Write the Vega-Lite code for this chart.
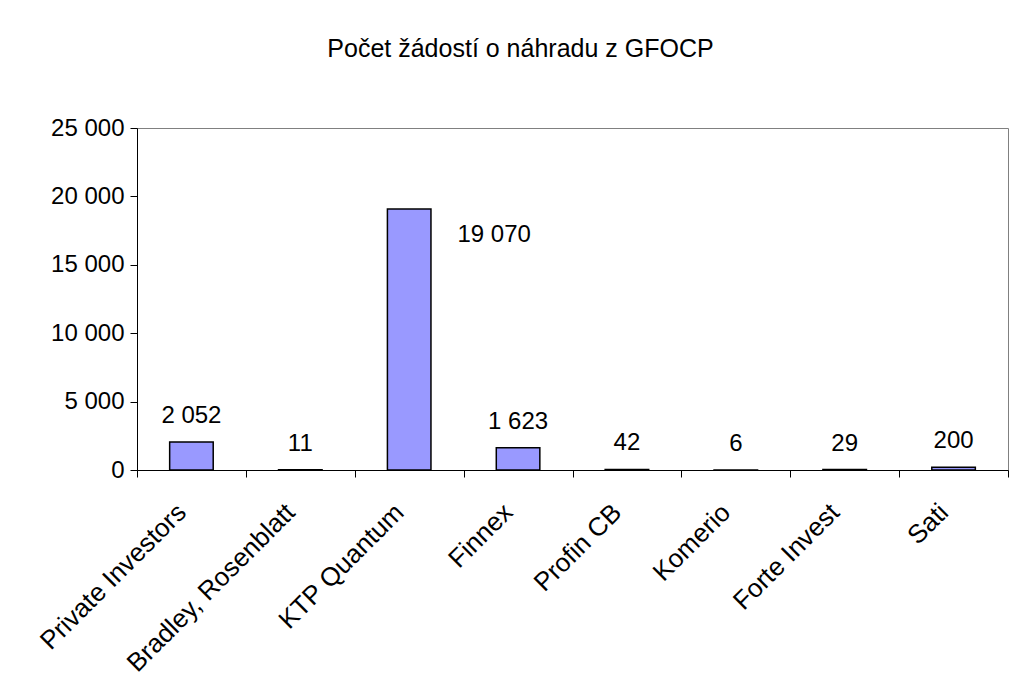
{
  "$schema": "https://vega.github.io/schema/vega-lite/v6.json",
  "autosize": "none",
  "width": 871,
  "height": 342,
  "padding": {"left": 137, "top": 128, "right": 4, "bottom": 227},
  "background": "white",
  "title": {
    "text": "Počet žádostí o náhradu z GFOCP",
    "anchor": "middle",
    "frame": "group",
    "dx": -52,
    "offset": 34,
    "baseline": "alphabetic",
    "font": "Liberation Sans",
    "fontSize": 25,
    "fontWeight": "normal",
    "color": "black"
  },
  "config": {
    "locale": {"number": {"decimal": ",", "thousands": " ", "grouping": [3], "currency": ["", " Kč"]}},
    "view": {"stroke": "#808080", "strokeWidth": 1},
    "axis": {
      "labelFont": "Liberation Sans",
      "labelFontSize": 24,
      "labelColor": "black",
      "domainColor": "black",
      "tickColor": "black",
      "domainWidth": 1,
      "tickWidth": 1,
      "tickSize": 7,
      "grid": false,
      "title": null
    },
    "text": {"font": "Liberation Sans", "fontSize": 24, "color": "black"}
  },
  "data": {
    "values": [
      {"firma": "Private Investors", "pocet": 2052},
      {"firma": "Bradley, Rosenblatt", "pocet": 11},
      {"firma": "KTP Quantum", "pocet": 19070},
      {"firma": "Finnex", "pocet": 1623},
      {"firma": "Profin CB", "pocet": 42},
      {"firma": "Komerio", "pocet": 6},
      {"firma": "Forte Invest", "pocet": 29},
      {"firma": "Sati", "pocet": 200}
    ]
  },
  "encoding": {
    "x": {
      "field": "firma",
      "type": "nominal",
      "sort": null,
      "scale": {"paddingInner": 0, "paddingOuter": 0},
      "axis": {
        "labelAngle": -45,
        "labelAlign": "right",
        "labelBaseline": "middle",
        "labelFontSize": 26,
        "labelPadding": 31,
        "labelOffset": -10,
        "tickBand": "extent",
        "labelLimit": 400
      }
    },
    "y": {
      "field": "pocet",
      "type": "quantitative",
      "scale": {"domain": [0, 25000], "nice": false},
      "axis": {"values": [0, 5000, 10000, 15000, 20000, 25000], "format": ",d", "labelPadding": 6}
    }
  },
  "layer": [
    {
      "mark": {"type": "bar", "width": {"band": 0.4}, "fill": "#9999FF", "stroke": "black", "strokeWidth": 1.5}
    },
    {
      "transform": [{"filter": "datum.firma !== 'KTP Quantum'"}],
      "mark": {"type": "text", "baseline": "alphabetic", "dy": -19},
      "encoding": {"text": {"field": "pocet", "type": "quantitative", "format": ",d"}}
    },
    {
      "transform": [{"filter": "datum.firma === 'KTP Quantum'"}],
      "mark": {"type": "text", "baseline": "alphabetic", "dx": 85, "dy": 33},
      "encoding": {"text": {"field": "pocet", "type": "quantitative", "format": ",d"}}
    }
  ]
}
